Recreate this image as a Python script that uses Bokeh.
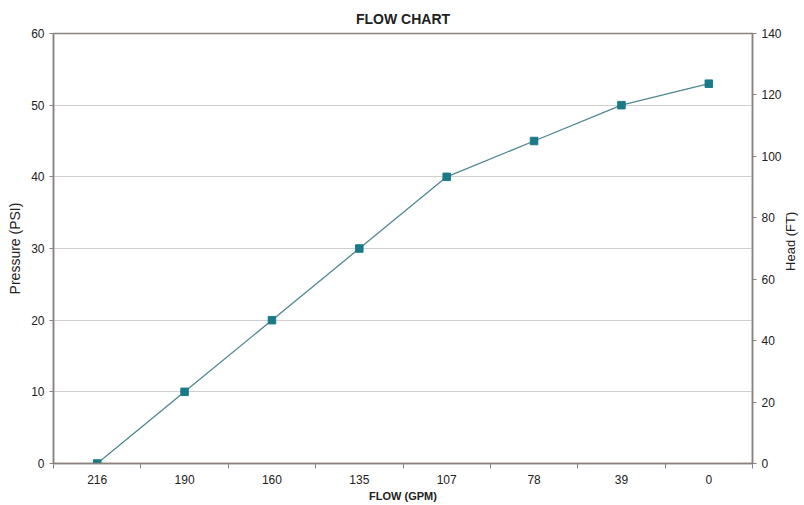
import math
from bokeh.plotting import figure
from bokeh.layouts import row
from bokeh.models import Range1d, LinearAxis, FixedTicker, ColumnDataSource
from bokeh.core.properties import value
from bokeh.embed import file_html
from bokeh.resources import INLINE

categories = ["216", "190", "160", "135", "107", "78", "39", "0"]
pressure = [0, 10, 20, 30, 40, 45, 50, 53]
left_ticks = [0, 10, 20, 30, 40, 50, 60]
right_ticks = [0, 20, 40, 60, 80, 100, 120, 140]

FONT = "Liberation Sans"
AXIS_COL = "#8a827e"
TEXT_COL = "#222222"

n = len(categories)
centers = [i + 0.5 for i in range(n)]
bounds = [float(i) for i in range(n + 1)]

p = figure(frame_width=699, frame_height=430, output_backend="svg", toolbar_location=None,
           x_range=Range1d(0, n), y_range=Range1d(0, 60),
           title="FLOW CHART", min_border_left=53, min_border_right=0,
           min_border_top=33, min_border_bottom=0)
p.extra_y_ranges = {"head": Range1d(0, 140)}

p.title.align = "center"
p.title.text_font = FONT
p.title.text_font_size = "14px"
p.title.text_font_style = "bold"
p.title.text_color = TEXT_COL
p.title.standoff = 14

src = ColumnDataSource(dict(x=centers, y=pressure, cat=categories))
p.line("x", "y", source=src, line_color="#4f8790", line_width=1.3)
p.scatter("x", "y", source=src, marker="square", size=7.5, fill_color="#1a7a88",
          line_color="#1a7a88")

# x axis
xa = p.xaxis[0]
xa.ticker = FixedTicker(ticks=centers, minor_ticks=bounds)
xa.major_label_overrides = {c: lab for c, lab in zip(centers, categories)}
xa.major_tick_out = 0
xa.major_tick_in = 0
xa.minor_tick_out = 5
xa.minor_tick_in = 0
xa.axis_label = "FLOW (GPM)"

# left axis
ya = p.yaxis[0]
ya.ticker = FixedTicker(ticks=left_ticks)
ya.axis_label = "Pressure (PSI)"
ya.major_tick_out = 4
ya.major_tick_in = 0

ra = LinearAxis(y_range_name="head", ticker=FixedTicker(ticks=right_ticks))
ra.major_tick_out = 4
ra.major_tick_in = 0
p.add_layout(ra, "right")

for ax in [xa, ya, ra]:
    ax.axis_line_color = AXIS_COL
    ax.axis_line_width = 1.5
    ax.major_tick_line_color = AXIS_COL
    ax.minor_tick_line_color = AXIS_COL if ax is xa else None
    ax.major_label_text_font = FONT
    ax.major_label_text_font_size = "12px"
    ax.major_label_text_color = TEXT_COL
    ax.axis_label_text_font = FONT
    ax.axis_label_text_font_size = "14px"
    ax.axis_label_text_color = TEXT_COL
    ax.axis_label_text_font_style = "normal"
    ax.major_label_standoff = 5
    ax.axis_label_standoff = 5

xa.axis_label_text_font_style = "bold"
xa.axis_label_text_font_size = "11px"
xa.major_label_standoff = 6
xa.axis_label_standoff = 3

p.xgrid.grid_line_color = None
p.ygrid.ticker = FixedTicker(ticks=left_ticks)
p.ygrid.grid_line_color = "#cfcfcf"
p.ygrid.grid_line_width = 1

p.outline_line_color = AXIS_COL
p.outline_line_width = 1.5
p.background_fill_color = "white"
p.border_fill_color = "white"

# narrow strip holding the right-hand axis title, reading bottom-to-top
p2 = figure(frame_width=22, frame_height=430, output_backend="svg", toolbar_location=None,
            x_range=Range1d(0, 22), y_range=Range1d(0, 60),
            x_axis_location=None, y_axis_location=None,
            min_border_left=0, min_border_right=0, min_border_top=33, min_border_bottom=0)
p2.grid.visible = False
p2.outline_line_color = None
p2.background_fill_color = "white"
p2.border_fill_color = "white"
p2.text(x=[6], y=[31], text=["Head (FT)"], angle=math.pi / 2,
        text_align="center", text_baseline="middle",
        text_font=value(FONT), text_font_size="13px", text_color=TEXT_COL)

layout = row(p, p2, spacing=0)
open("out.html", "w").write(file_html(layout, INLINE))
